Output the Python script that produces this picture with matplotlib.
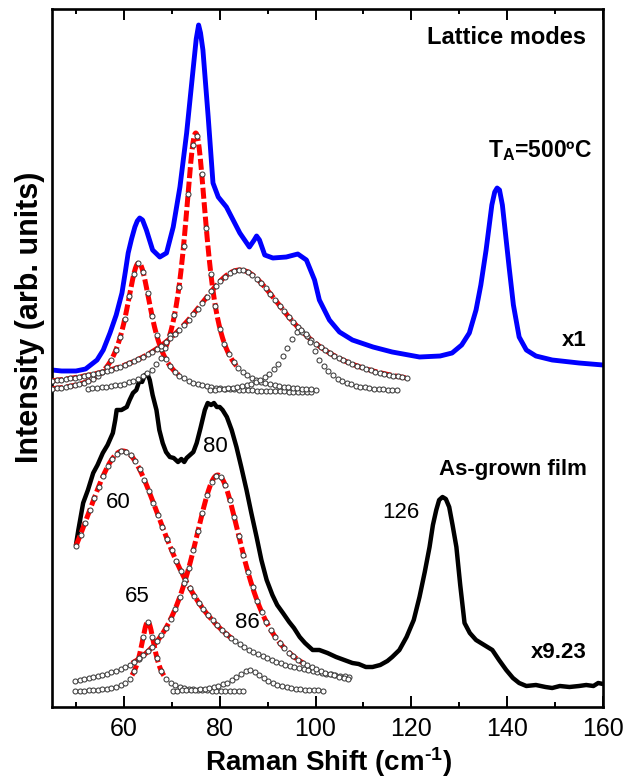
import numpy as np
import matplotlib
matplotlib.use("Agg")
import matplotlib.pyplot as plt

plt.rcParams['font.family'] = ['Liberation Sans', 'DejaVu Sans']
plt.rcParams['mathtext.fontset'] = 'custom'
plt.rcParams['mathtext.rm'] = 'Liberation Sans:bold'
plt.rcParams['mathtext.bf'] = 'Liberation Sans:bold'
plt.rcParams['mathtext.default'] = 'rm'

annealed_x = [45, 47, 50, 52, 54.4, 55.7, 57.1, 58.4, 59.6, 60.3, 60.9, 61.6, 62.3, 62.8, 63.3,
              63.9, 64.7, 66, 67.5, 68.9, 70.3, 71.7, 73.1, 74.5, 75.1, 75.6, 76.0, 76.5, 77.6,
              78.6, 79.7, 81.4, 82.8, 84.2, 86.2, 87.2, 87.7, 88.3, 89.4, 91.1, 93.9, 96.3, 98.1,
              99.8, 100.8, 102.9, 105, 107.7, 112, 116, 121.7, 126, 128.5, 130.5, 132.1, 133.5,
              134.5, 135.6, 136.8, 137.4, 137.9, 138.4, 139, 140.4, 141.3, 142.5, 144, 146, 149.4,
              155, 160]
annealed_y = [337, 336, 336, 338, 347, 357, 374, 392, 414, 435, 454, 468, 480, 486, 489,
              487, 477, 457, 450, 454, 480, 520, 574, 640, 668, 682, 674, 657, 590,
              524, 510, 500, 487, 474, 460, 467, 471, 467, 452, 449, 450, 453, 447,
              427, 407, 387, 375, 367, 360, 355, 350, 351, 354, 362, 374, 397,
              422, 457, 502, 515, 519, 517, 502, 440, 402, 370, 357, 351, 347,
              344, 342]

asgrown_x = [50, 50.5, 51.5, 52.5, 53.6, 54.5, 55.6, 56.6, 57.7, 58.2, 58.5, 59.5, 60.6, 61.2, 61.9,
             62.6, 63.3, 63.8, 64.4, 65.0, 65.4, 66.0, 66.8, 67.4, 68.1, 68.8, 69.6, 70.4, 71.3,
             72.0, 72.6, 73.1, 73.8, 74.5, 75.2, 76.0, 76.9, 77.5, 78.2, 78.8, 79.4, 80, 80.6,
             81.5, 82.5, 83.5, 84.5, 85.6, 86.6, 87.7, 88.7, 89.8, 91.0, 92.0, 93.2, 94.5, 95.5,
             96.7, 97.8, 99.4, 100.8, 102.5, 104.3, 106, 107.7, 109, 110.5, 111.9, 113.5, 115,
             116, 117.5, 119, 120.5, 121.7, 122.8, 123.8, 124.5, 125.2, 125.8, 126.5, 127.2, 127.9,
             128.6, 129.4, 130.2, 131.1, 132.2, 133.5, 135.2, 136.9, 138.3, 139.8, 141.2, 142.5,
             144, 146, 148, 149.4, 151, 153, 155, 156.5, 158, 159, 160]
asgrown_y = [162, 177, 204, 217, 234, 242, 254, 262, 274, 287, 297, 297, 300, 307, 314,
             317, 327, 325, 332, 332, 327, 312, 297, 277, 264, 255, 250, 249, 245,
             248, 245, 249, 252, 255, 264, 279, 297, 304, 302, 304, 300, 300, 297,
             290, 277, 260, 240, 217, 194, 170, 147, 127, 112, 102, 94, 85, 79,
             70, 64, 57, 57, 54, 50, 47, 44, 43, 40, 40, 42, 46,
             50, 57, 70, 87, 110, 135, 160, 182, 197, 207, 210, 208, 200,
             182, 160, 122, 84, 74, 67, 62, 57, 47, 37, 29, 24,
             21, 22, 20, 19, 21, 20, 21, 22, 21, 24, 23]

# ---------------- fitted Lorentzian components (parameters) ----------------
top_centers = [63.1, 75.0, 84.2, 96.8]
top_heights = [130, 260, 123, 63]
top_hwhm = [3.35, 2.9, 13.0, 4.25]
top_base = 314
top_circ_start = [45, 52.5, 45, 78]
top_circ_end = [100, 100, 119.5, 117.5]
top_red_start = [45, 68.5, 45, None]
top_red_end = [71.5, 83.5, 119.5, None]

low_centers = [59.8, 79.6, 65.0, 86.2]
low_heights = [241, 217, 70, 22]
low_hwhm = [12.15, 7.0, 1.85, 4.0]
low_base = 15
low_circ_start = [50, 49.8, 49.8, 70.2]
low_circ_end = [107.5, 107, 85.2, 101.9]
low_red_start = [50, 61.7, 61.7, None]
low_red_end = [82.8, 97.4, 68.5, None]

peak_labels = ["60", "80", "65", "86", "126"]
peak_label_x = [58.75, 79.0, 62.7, 85.8, 117.9]
peak_label_y = [204, 260, 110, 85, 194]

xticks_major = [60, 80, 100, 120, 140, 160]


def lorentz(x, c, h, w, b):
    return b + h * w ** 2 / ((x - c) ** 2 + w ** 2)


fig = plt.figure(figsize=(6.37, 7.78), dpi=100)
ax = fig.add_axes([52 / 637, 1 - 707 / 778, (603 - 52) / 637, (707 - 9) / 778])

ax.plot(asgrown_x, asgrown_y, color='black', lw=3.2, zorder=2,
        solid_joinstyle='round', solid_capstyle='round')
ax.plot(annealed_x, annealed_y, color='#0000ff', lw=3.5, zorder=2,
        solid_joinstyle='round', solid_capstyle='round')


def draw_components(centers, heights, hwhm, base, cs, ce, rs, re):
    for i in range(len(centers)):
        if rs[i] is not None:
            xr = np.linspace(rs[i], re[i], 400)
            ax.plot(xr, lorentz(xr, centers[i], heights[i], hwhm[i], base), color='#ff0000',
                    lw=3.6, linestyle=(0, (2.2, 0.7)), zorder=3, dash_capstyle='butt')
        xc = np.arange(cs[i], ce[i] + 1e-6, 0.95)
        ax.plot(xc, lorentz(xc, centers[i], heights[i], hwhm[i], base), linestyle='none',
                marker='o', ms=3.6, mfc='white', mec='#3a3a3a', mew=0.75, zorder=4)


draw_components(top_centers, top_heights, top_hwhm, top_base,
                top_circ_start, top_circ_end, top_red_start, top_red_end)
draw_components(low_centers, low_heights, low_hwhm, low_base,
                low_circ_start, low_circ_end, low_red_start, low_red_end)

for lab, lx, ly in zip(peak_labels, peak_label_x, peak_label_y):
    ax.text(lx, ly, lab, fontsize=16, ha='center', va='center', zorder=5)

ax.text(156.5, 669, "Lattice modes", fontsize=17, fontweight='bold', ha='right', va='center')
ax.text(157.7, 550, "T$_{\\mathrm{A}}$=500ºC", fontsize=16.5, fontweight='bold',
        ha='right', va='baseline')
ax.text(156.5, 367, "x1", fontsize=16, fontweight='bold', ha='right', va='center')
ax.text(156.7, 237, "As-grown film", fontsize=16, fontweight='bold', ha='right', va='center')
ax.text(156.5, 54, "x9.23", fontsize=16, fontweight='bold', ha='right', va='center')

ax.set_xlim(45, 160)
ax.set_ylim(0, 698)
ax.set_xticks(xticks_major)
ax.set_xticks([50, 70, 90, 110, 130, 150], minor=True)
ax.set_yticks([])
ax.tick_params(axis='x', which='both', direction='in', top=True, width=1.4, labelsize=18, pad=7)
ax.tick_params(axis='x', which='major', length=7.7)
ax.tick_params(axis='x', which='minor', length=3.6)
for s in ax.spines.values():
    s.set_linewidth(1.9)

fig.text(329 / 637, 1 - 762 / 778, "Raman Shift (cm$^{\u2010\\mathrm{1}}$)", fontsize=20,
         fontweight='bold', ha='center', va='center')
fig.text(30 / 637, 1 - 317 / 778, "Intensity (arb. units)", fontsize=22, fontweight='bold',
         ha='center', va='center', rotation=90)

fig.savefig("out.png", dpi=100)
